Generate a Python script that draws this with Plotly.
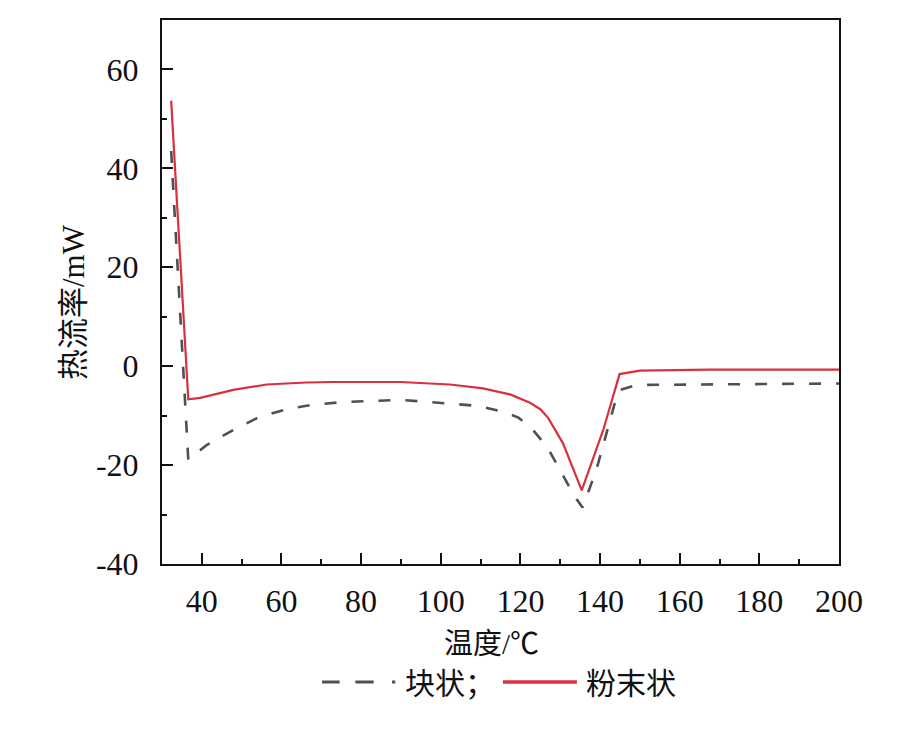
import plotly.graph_objects as go

# 粉末状 (powder) – red solid
powder_x = [32.3, 35.6, 36.6, 39.6, 47.9, 56.3, 66.3, 72.9, 89.8, 102.3, 110.6, 117.4,
            122.4, 125.0, 127.0, 130.7, 135.4, 140.8, 144.9, 150.0, 167.5, 200.0]
powder_y = [53.7, 7.2, -6.7, -6.4, -4.8, -3.7, -3.3, -3.2, -3.2, -3.7, -4.5, -5.7,
            -7.4, -8.7, -10.5, -15.6, -25.1, -12.9, -1.6, -0.9, -0.7, -0.7]

# 块状 (block) – grey dashed
block_x = [32.3, 36.6, 41.3, 47.9, 54.6, 61.3, 67.9, 74.7, 89.8, 102.3, 109.0, 115.7,
           119.5, 122.4, 126.6, 129.9, 133.6, 135.6, 139.1, 143.7, 145.0, 149.2, 200.0]
block_y = [43.5, -18.9, -15.9, -12.9, -10.2, -8.7, -7.8, -7.3, -6.8, -7.5, -8.0, -9.2,
           -10.4, -12.2, -16.2, -20.9, -26.3, -28.6, -20.9, -7.5, -4.8, -3.8, -3.5]

x_ticks = [40, 60, 80, 100, 120, 140, 160, 180, 200]
y_ticks = [-40, -20, 0, 20, 40, 60]
y_tick_labels = ["-40", "-20", "0", "20", "40", "60"]

x_title = "温度/℃"
y_title = "热流率/mW"
legend_labels = ["块状；", "粉末状"]

GREY = "#505050"
RED = "#d8303c"
SERIF = "Liberation Serif, Times New Roman, Noto Sans CJK SC, serif"

# page has an 8px body margin; figure is sized so the plot lands where the reference is
OFF = 8
W, H = 906 - OFF, 733 - OFF
plot_l, plot_r, plot_t, plot_b = 161.5, 839.0, 20.0, 564.0
ml, mr = plot_l - OFF, OFF + W - plot_r
mt, mb = plot_t - OFF, OFF + H - plot_b
pw, ph = plot_r - plot_l, plot_b - plot_t

def px(xp):
    return (xp - plot_l) / pw

def py(yp):
    return (plot_b - yp) / ph

fig = go.Figure()
fig.add_trace(go.Scatter(x=block_x, y=block_y, mode="lines", name=legend_labels[0],
                         line=dict(color=GREY, width=2.6, dash="12px,15px"),
                         showlegend=False))
fig.add_trace(go.Scatter(x=powder_x, y=powder_y, mode="lines", name=legend_labels[1],
                         line=dict(color=RED, width=2.2),
                         showlegend=False))

axis_common = dict(
    showline=True, linecolor="#111", linewidth=2, mirror=True,
    ticks="inside", ticklen=11, tickwidth=2, tickcolor="#111",
    showgrid=False, zeroline=False,
    tickfont=dict(family=SERIF, size=32, color="#111"),
)

fig.update_xaxes(range=[30, 200], tickmode="array", tickvals=x_ticks,
                 ticklabelstandoff=8,
                 minor=dict(ticks="inside", ticklen=5, tickwidth=2, tickcolor="#111", dtick=10, tick0=30),
                 **axis_common)
fig.update_yaxes(range=[-40, 70], tickmode="array", tickvals=y_ticks, ticktext=y_tick_labels,
                 ticklabelstandoff=15,
                 minor=dict(ticks="inside", ticklen=5, tickwidth=2, tickcolor="#111", dtick=10, tick0=-30),
                 **axis_common)

annotations = [
    dict(text=y_title, xref="paper", yref="paper", x=px(73), y=py(302.5),
         xanchor="center", yanchor="middle", showarrow=False, textangle=-90,
         font=dict(family=SERIF, size=31, color="#111")),
    dict(text=x_title, xref="paper", yref="paper", x=px(491.5), y=py(644),
         xanchor="center", yanchor="middle", showarrow=False,
         font=dict(family=SERIF, size=29, color="#111")),
    dict(text=legend_labels[0], xref="paper", yref="paper", x=px(403.0), y=py(683),
         xanchor="left", yanchor="middle", showarrow=False,
         font=dict(family=SERIF, size=30, color="#111")),
    dict(text=legend_labels[1], xref="paper", yref="paper", x=px(584.0), y=py(683),
         xanchor="left", yanchor="middle", showarrow=False,
         font=dict(family=SERIF, size=30, color="#111")),
]

ly = py(682)
shapes = [
    dict(type="line", xref="paper", yref="paper", x0=px(321.7), x1=px(339.3), y0=ly, y1=ly,
         line=dict(color=GREY, width=3)),
    dict(type="line", xref="paper", yref="paper", x0=px(355.0), x1=px(373.3), y0=ly, y1=ly,
         line=dict(color=GREY, width=3)),
    dict(type="line", xref="paper", yref="paper", x0=px(391.7), x1=px(395.0), y0=ly, y1=ly,
         line=dict(color=GREY, width=3)),
    dict(type="line", xref="paper", yref="paper", x0=px(502.7), x1=px(576.7), y0=ly, y1=ly,
         line=dict(color=RED, width=3.5)),
]

fig.update_layout(
    width=W, height=H,
    margin=dict(l=ml, r=mr, t=mt, b=mb, autoexpand=False),
    paper_bgcolor="white", plot_bgcolor="white",
    annotations=annotations, shapes=shapes,
    showlegend=False,
)

fig.write_html("out.html")
